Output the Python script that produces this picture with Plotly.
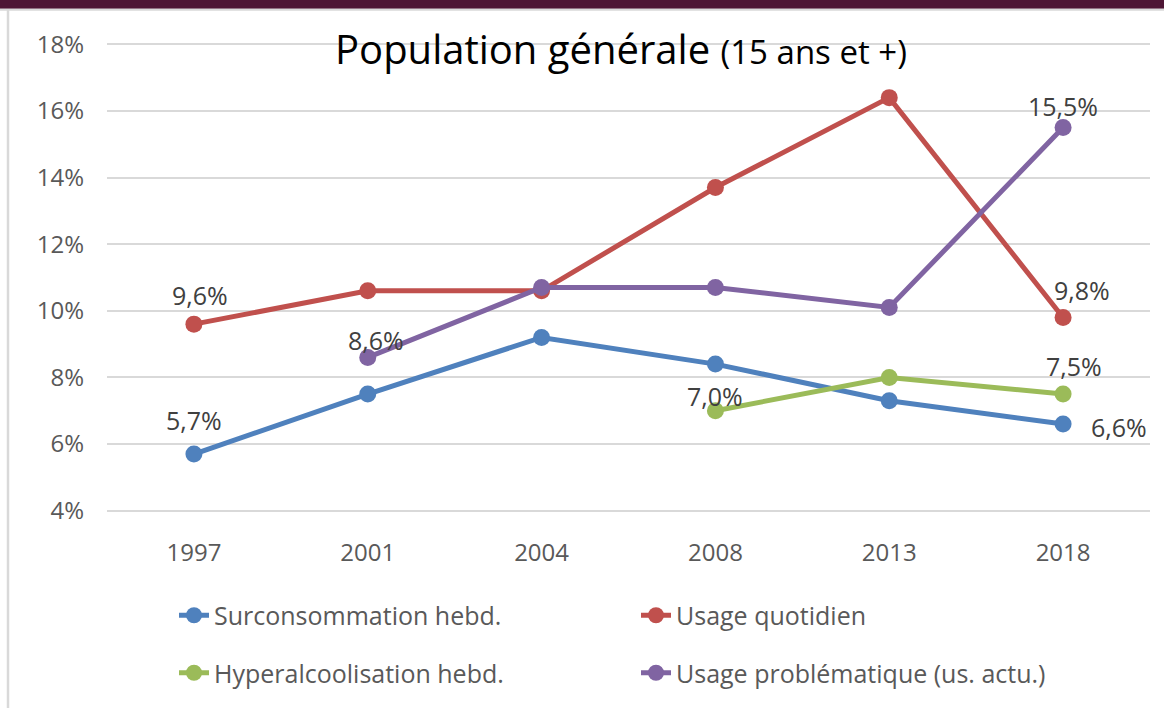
import plotly.graph_objects as go

# ---------------- data ----------------
years = ["1997", "2001", "2004", "2008", "2013", "2018"]
surconsommation = [5.7, 7.5, 9.2, 8.4, 7.3, 6.6]
usage_quotidien = [9.6, 10.6, 10.6, 13.7, 16.4, 9.8]
hyperalcoolisation = [None, None, None, 7.0, 8.0, 7.5]
usage_problematique = [None, 8.6, 10.7, 10.7, 10.1, 15.5]
series_names = ["Surconsommation hebd.", "Usage quotidien",
                "Hyperalcoolisation hebd.", "Usage problématique (us. actu.)"]
y_ticks = [4, 6, 8, 10, 12, 14, 16, 18]

# labelled points: (series index, category index)
labelled_points = [(0, 0), (0, 5), (1, 0), (1, 5), (2, 3), (2, 5), (3, 1), (3, 5)]

# ---------------- styles ----------------
W, H = 1164, 708
ML, MR, MT, MB = 107, 14, 41, 191
colors = ["#4F81BD", "#C0504D", "#9BBB59", "#8064A2"]
legend_of = ["legend", "legend2", "legend", "legend2"]
label_shift = {  # (xshift, yshift) in px
    (0, 0): (0, 34), (0, 5): (56, -3),
    (1, 0): (6, 29), (1, 5): (19, 27),
    (2, 3): (0, 15), (2, 5): (11, 28),
    (3, 1): (8, 17), (3, 5): (0, 22),
}
FONT = "Open Sans"

all_series = [surconsommation, usage_quotidien, hyperalcoolisation, usage_problematique]

fig = go.Figure()
for i, (name, vals) in enumerate(zip(series_names, all_series)):
    fig.add_trace(go.Scatter(
        x=years, y=vals, name=name, mode="lines+markers",
        line=dict(color=colors[i], width=5),
        marker=dict(color=colors[i], size=17),
        legend=legend_of[i], legendgroup=f"g{i}",
        connectgaps=False, hoverinfo="x+y",
    ))

def fmt(v):
    return f"{v:.1f}".replace(".", ",") + "%"

annotations = []
for (si, ci) in labelled_points:
    v = all_series[si][ci]
    xs, ys = label_shift[(si, ci)]
    annotations.append(dict(
        x=ci, y=v, xref="x", yref="y", text=fmt(v), showarrow=False,
        xshift=xs, yshift=ys, font=dict(family=FONT, size=25, color="#404040"),
    ))

plot_w = W - ML - MR
plot_h = H - MT - MB

def px_x(px):
    return (px - ML) / plot_w

def px_y(py):
    return (H - MB - py) / plot_h

# title
annotations.append(dict(
    x=px_x(621), y=px_y(49), xref="paper", yref="paper", showarrow=False,
    text="Population générale <span style='font-size:33px'>(15 ans et +)</span>",
    font=dict(family=FONT, size=40, color="#000000"),
    xanchor="center", yanchor="middle",
))

shapes = [
    # dark band at top
    dict(type="rect", xref="paper", yref="paper", x0=px_x(-2), x1=px_x(W + 2),
         y0=px_y(8.5), y1=px_y(-2), fillcolor="#4E1535", line=dict(width=0), layer="below"),
    # border lines
    dict(type="line", xref="paper", yref="paper", x0=px_x(0), x1=px_x(W),
         y0=px_y(9.5), y1=px_y(9.5), line=dict(color="#D9D9D9", width=2)),
    dict(type="line", xref="paper", yref="paper", x0=px_x(8), x1=px_x(8),
         y0=px_y(9.5), y1=px_y(H + 5), line=dict(color="#D9D9D9", width=2.5)),
]

legend_common = dict(
    orientation="v", yanchor="top", xanchor="left", bgcolor="rgba(0,0,0,0)",
    font=dict(family=FONT, size=25, color="#595959"), tracegroupgap=22,
    itemwidth=30,
)

fig.update_layout(
    width=W, height=H,
    margin=dict(l=ML, r=MR, t=MT, b=MB, pad=0),
    paper_bgcolor="white", plot_bgcolor="white",
    showlegend=True,
    legend=dict(x=px_x(174), y=px_y(596), **legend_common),
    legend2=dict(x=px_x(636), y=px_y(596), **legend_common),
    xaxis=dict(type="category", categoryorder="array", categoryarray=years,
               range=[-0.5, 5.5], showgrid=False, showline=False, zeroline=False,
               ticks="", ticklabelstandoff=22,
               tickfont=dict(family=FONT, size=24, color="#595959")),
    yaxis=dict(range=[3.9, 18.1], tickvals=y_ticks,
               ticktext=[f"{t}%" for t in y_ticks],
               showgrid=True, gridcolor="#D9D9D9", gridwidth=1.5,
               zeroline=False, showline=False, ticks="", ticklabelstandoff=22,
               tickfont=dict(family=FONT, size=24, color="#595959")),
    annotations=annotations, shapes=shapes,
    hovermode="closest",
)

fig.write_html("out.html", config={"displayModeBar": False},
               post_script="document.body.style.margin='0';")
